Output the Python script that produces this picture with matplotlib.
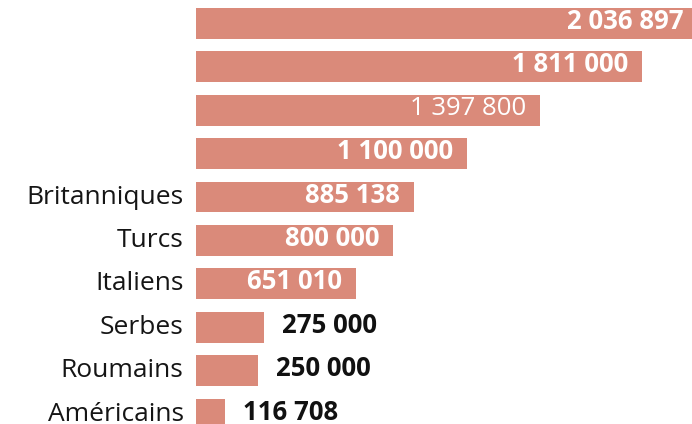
import matplotlib
matplotlib.use("Agg")
import matplotlib.pyplot as plt
from matplotlib.transforms import offset_copy

# data (top four labels are blank in the reference)
categories = ["", "", "", "", "Britanniques", "Turcs", "Italiens",
              "Serbes", "Roumains", "Américains"]
values = [2036897, 1811000, 1397800, 1100000, 885138, 800000, 651010,
          275000, 250000, 116708]
value_labels = ["2 036 897", "1 811 000", "1 397 800", "1 100 000", "885 138",
                "800 000", "651 010", "275 000", "250 000", "116 708"]

plt.rcParams['font.family'] = ['Open Sans', 'DejaVu Sans']

bar_color = "#DA8A7A"
fig = plt.figure(figsize=(6.92, 4.24), dpi=100)
ax = fig.add_axes([196 / 692, 0, 1 - 196 / 692, 1])

y = list(range(len(values)))
ax.barh(y, values, height=0.71, color=bar_color)
ax.set_xlim(0, 2014000)
ax.set_ylim(9.228, -0.541)

ax.set_yticks(y)
ax.set_yticklabels(categories, fontsize=19, color="#151515")
ax.tick_params(axis="y", length=0, pad=9)
ax.set_xticks([])
for s in ax.spines.values():
    s.set_visible(False)
# text sits a little above the bar centre in the original
for lab in ax.get_yticklabels():
    lab.set_transform(offset_copy(lab.get_transform(), fig=fig, x=0, y=3, units="dots"))

# value labels: inside the long bars, outside the short ones
up = offset_copy(ax.transData, fig=fig, x=0, y=2, units="dots")
px = 2014000 / (692 - 196)
for i, (v, lab) in enumerate(zip(values, value_labels)):
    if v > 500000:
        weight = "normal" if i == 2 else "bold"
        ax.text(v - 14 * px, i, lab, ha="right", va="center", color="white",
                fontsize=18.5, fontweight=weight, transform=up)
    else:
        ax.text(v + 18 * px, i, lab, ha="left", va="center", color="#111111",
                fontsize=18.5, fontweight="bold", transform=up)

fig.savefig("out.png", dpi=100)
